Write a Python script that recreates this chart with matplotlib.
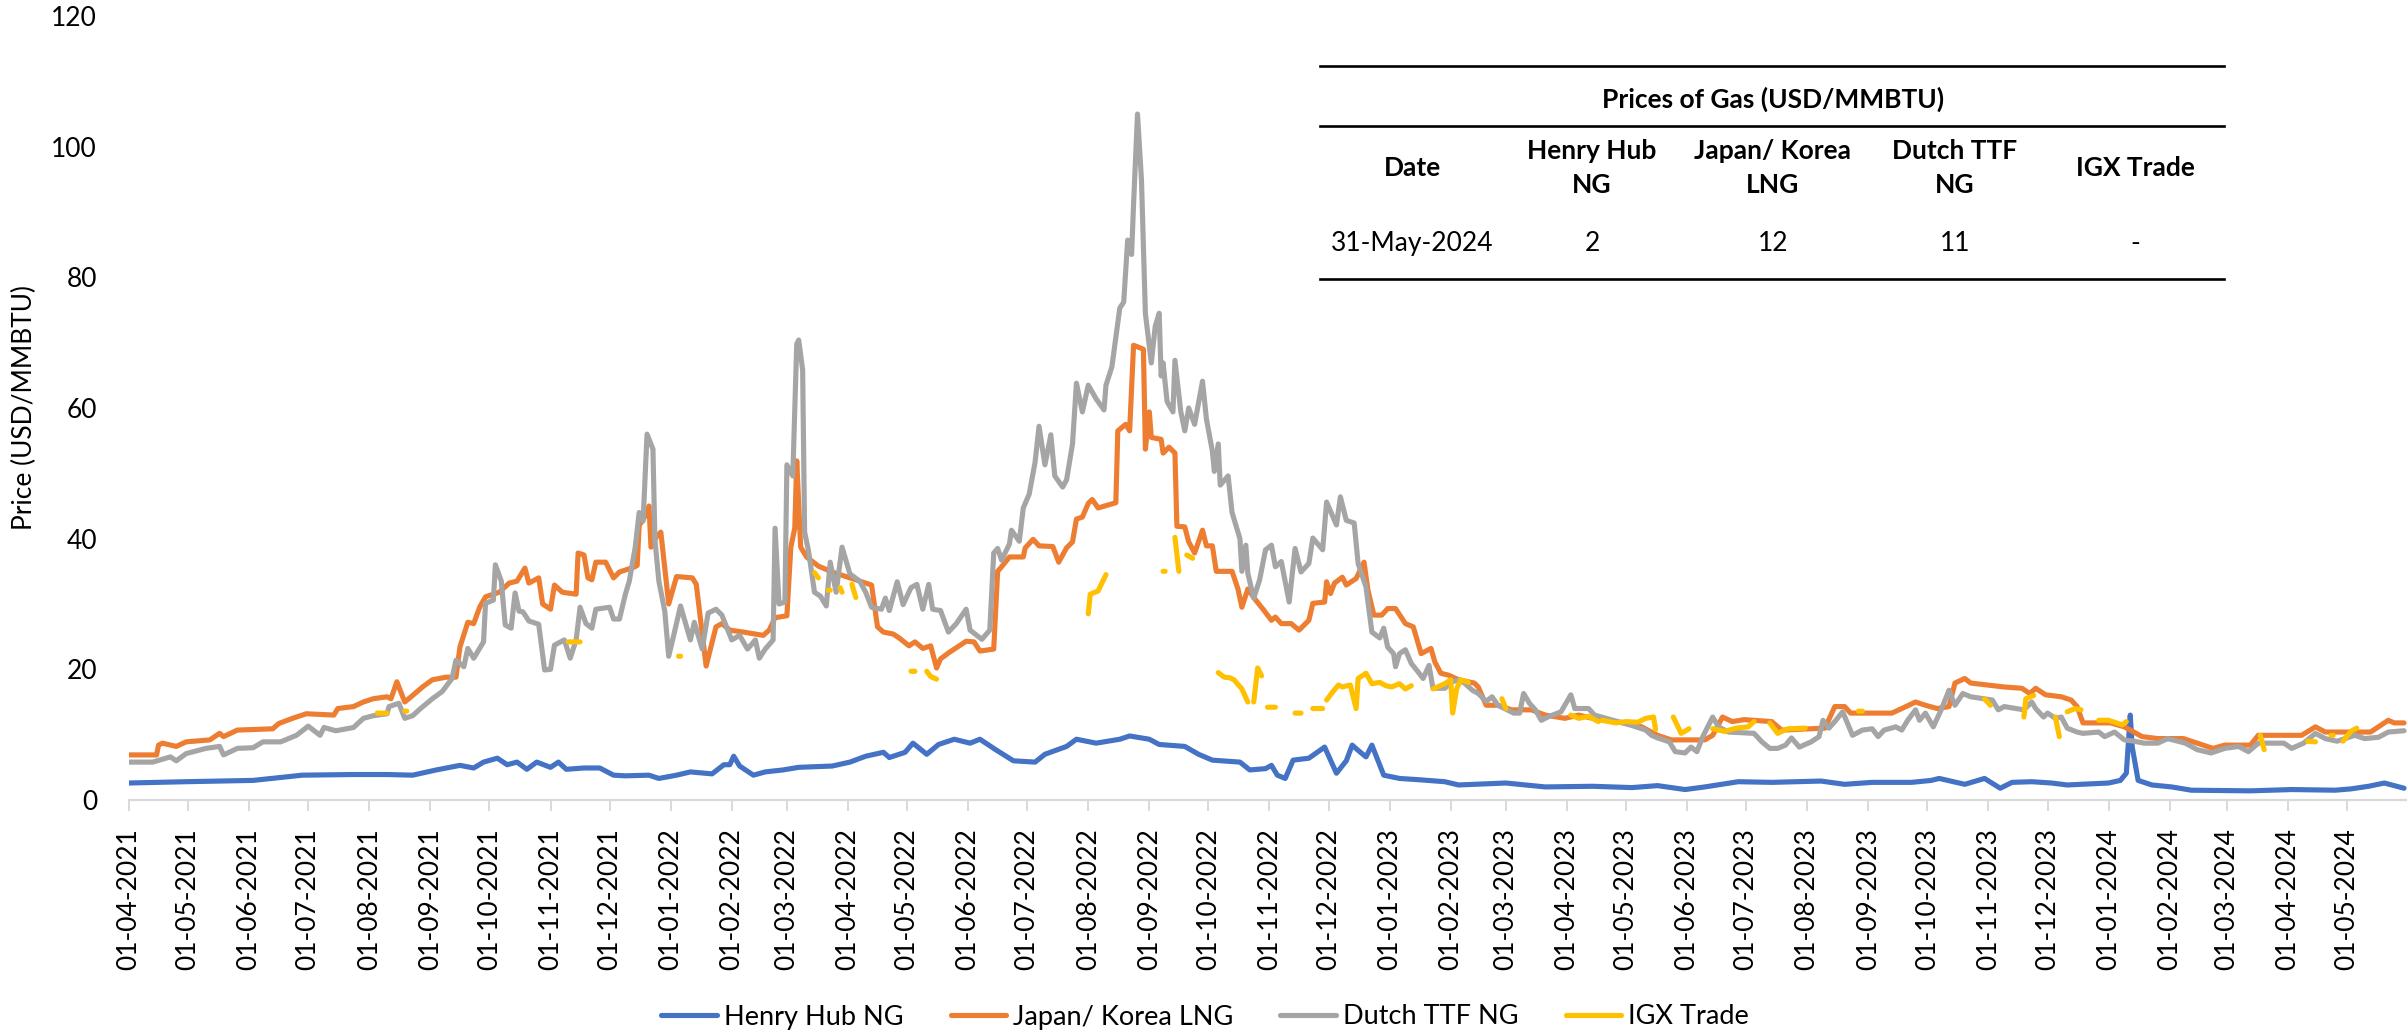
import numpy as np
import pandas as pd
import matplotlib
matplotlib.use("Agg")
import matplotlib.pyplot as plt
import matplotlib.dates as mdates
from matplotlib.lines import Line2D

plt.rcParams['font.family'] = ['Lato', 'DejaVu Sans']

# ---------------- data (days since 01-04-2021, USD/MMBTU) ----------------
start_date = "2021-04-01"
end_date = "2024-05-31"

hh_days = [0, 29, 63, 88, 114, 131, 144, 156, 168, 175, 180, 187, 192, 197, 202, 207, 214, 218, 222, 231,
           239, 246, 252, 264, 269, 278, 285, 296, 302, 305, 307, 310, 317, 323, 332, 340, 357, 366, 374, 383,
           386, 394, 398, 405, 411, 419, 427, 432, 440, 449, 460, 465, 476, 481, 491, 503, 508, 518, 523, 536,
           543, 550, 564, 569, 577, 580, 583, 587, 591, 599, 607, 613, 618, 621, 624, 628, 631, 637, 645, 655,
           668, 675, 699, 719, 743, 763, 776, 783, 790, 800, 817, 834, 859, 871, 885, 905, 915, 919, 932, 942,
           950, 956, 966, 976, 984, 1005, 1011, 1014, 1016, 1017, 1020, 1027, 1037, 1047, 1077, 1098, 1120, 1128,
           1137, 1145, 1155]
hh_vals = [2.6, 2.8, 3.0, 3.8, 3.9, 3.9, 3.8, 4.6, 5.3, 4.9, 5.8, 6.4, 5.4, 5.8, 4.7, 5.8, 5.0, 5.8, 4.7, 4.9,
           4.9, 3.8, 3.7, 3.8, 3.3, 3.8, 4.3, 4.0, 5.4, 5.4, 6.7, 5.2, 3.8, 4.3, 4.6, 5.0, 5.2, 5.8, 6.7, 7.3,
           6.5, 7.3, 8.7, 7.0, 8.5, 9.3, 8.7, 9.3, 7.7, 6.0, 5.8, 7.0, 8.2, 9.3, 8.7, 9.3, 9.8, 9.3, 8.5, 8.2,
           7.0, 6.1, 5.8, 4.6, 4.8, 5.3, 3.8, 3.3, 6.1, 6.4, 8.1, 4.1, 6.0, 8.4, 7.6, 6.6, 8.4, 3.8, 3.3, 3.1,
           2.8, 2.3, 2.6, 2.0, 2.1, 1.9, 2.2, 1.9, 1.6, 2.0, 2.8, 2.7, 2.9, 2.4, 2.7, 2.7, 3.0, 3.3, 2.4, 3.3,
           1.8, 2.7, 2.8, 2.6, 2.3, 2.6, 3.0, 4.1, 13.0, 8.1, 3.0, 2.3, 2.0, 1.5, 1.4, 1.6, 1.5, 1.7,
           2.1, 2.6, 1.8]

jkm_days = [0, 14, 15, 17, 24, 29, 41, 46, 48, 55, 73, 76, 83, 90, 104, 106, 114, 119, 124, 131,
            133, 136, 140, 144, 149, 154, 161, 166, 168, 172, 175, 178, 181, 188, 193, 197, 201, 203, 208, 210,
            214, 216, 220, 227, 228, 231, 233, 235, 237, 242, 246, 249, 256, 258, 259, 263, 264, 265, 268, 270,
            274, 278, 286, 288, 293, 298, 301, 305, 312, 322, 325, 328, 334, 336, 338, 339, 341, 344, 350, 357,
            364, 371, 377, 380, 383, 388, 391, 396, 399, 403, 407, 410, 412, 416, 425, 429, 432, 439, 441, 443,
            447, 454, 455, 459, 462, 469, 472, 476, 479, 481, 484, 487, 489, 492, 501, 502, 506, 508, 510, 515,
            516, 518, 519, 524, 525, 528, 531, 532, 536, 538, 541, 545, 547, 550, 552, 560, 563, 565, 568, 572,
            576, 580, 582, 585, 590, 594, 599, 601, 607, 608, 610, 612, 616, 618, 623, 627, 629, 632, 636, 639,
            643, 648, 652, 656, 661, 663, 666, 670, 675, 683, 685, 689, 695, 702, 712, 719, 729, 736, 743, 753,
            760, 768, 771, 776, 783, 800, 804, 809, 814, 820, 834, 839, 861, 866, 871, 874, 895, 900, 907, 912,
            918, 924, 927, 932, 935, 952, 961, 965, 968, 973, 981, 986, 989, 992, 1006, 1013, 1022, 1030, 1043, 1050,
            1058, 1064, 1077, 1081, 1103, 1110, 1115, 1138, 1142, 1147, 1150, 1155]
jkm_vals = [6.9, 6.9, 8.4, 8.7, 8.2, 8.9, 9.2, 10.2, 9.7, 10.7, 10.9, 11.7, 12.5, 13.2, 13.0, 14.0, 14.3, 15.0, 15.5, 15.8,
            15.5, 18.1, 15.0, 16.0, 17.3, 18.4, 18.8, 18.8, 23.4, 27.2, 27.0, 29.5, 31.1, 31.8, 33.2, 33.5, 35.5, 33.2, 34.0, 30.0,
            29.2, 32.9, 31.8, 31.5, 37.8, 37.5, 34.0, 33.7, 36.4, 36.4, 34.0, 34.9, 35.6, 35.9, 42.0, 43.9, 45.0, 38.7, 40.4, 41.0,
            30.0, 34.2, 34.0, 33.0, 20.5, 26.5, 27.0, 26.0, 25.7, 25.2, 26.0, 27.9, 28.2, 38.7, 41.6, 51.9, 38.7, 37.2, 35.8, 34.9,
            34.2, 33.5, 32.9, 26.5, 25.7, 25.4, 24.8, 23.6, 24.2, 23.2, 23.6, 20.2, 21.6, 22.5, 24.3, 24.2, 22.8, 23.1, 35.0, 35.7,
            37.2, 37.2, 38.6, 39.9, 38.9, 38.8, 36.4, 38.6, 39.5, 43.0, 43.3, 45.4, 46.0, 44.7, 45.5, 56.5, 57.5, 56.5, 69.6, 69.0,
            53.7, 59.4, 55.5, 55.2, 53.1, 54.0, 53.1, 41.9, 41.8, 39.5, 37.8, 41.3, 38.9, 38.9, 35.0, 35.0, 32.3, 29.5, 32.3, 30.6,
            29.1, 27.5, 28.0, 27.0, 27.0, 26.0, 27.5, 30.1, 30.3, 33.4, 31.6, 33.2, 34.1, 32.9, 33.9, 36.4, 32.1, 28.3, 28.3, 29.3,
            29.3, 27.0, 26.5, 22.4, 23.2, 21.1, 19.4, 19.1, 18.4, 17.9, 17.3, 14.5, 14.5, 13.8, 13.8, 13.0, 12.5, 13.0, 12.5, 12.0,
            11.8, 11.2, 10.7, 9.9, 9.2, 9.2, 9.9, 12.7, 12.0, 12.3, 12.0, 10.7, 11.0, 14.3, 14.3, 13.3, 13.3, 14.0, 15.0, 14.5,
            14.0, 14.3, 17.9, 18.6, 17.9, 17.3, 17.1, 16.3, 17.1, 16.1, 15.8, 15.3, 14.3, 11.8, 11.8, 11.2, 9.7, 9.4, 9.4, 8.7,
            7.9, 8.4, 8.4, 9.9, 9.9, 11.2, 10.4, 10.4, 11.2, 12.2, 11.8, 11.8]

ttf_days = [0, 12, 21, 24, 29, 39, 46, 48, 55, 63, 68, 77, 85, 91, 97, 99, 105, 114, 119, 124,
            131, 132, 137, 140, 144, 148, 154, 159, 164, 166, 170, 172, 175, 180, 181, 185, 186, 189, 191, 194,
            196, 198, 200, 203, 208, 211, 214, 216, 221, 224, 227, 229, 232, 235, 237, 244, 246, 249, 252, 254,
            257, 259, 261, 263, 266, 267, 269, 272, 274, 276, 280, 283, 285, 287, 291, 294, 298, 301, 306, 310,
            314, 318, 320, 323, 327, 328, 330, 333, 334, 337, 339, 340, 342, 343, 345, 348, 351, 354, 356, 359,
            362, 366, 371, 374, 377, 382, 384, 386, 390, 393, 397, 400, 403, 406, 408, 412, 416, 420, 425, 427,
            433, 437, 439, 441, 443, 447, 448, 452, 454, 457, 460, 462, 465, 468, 470, 474, 476, 479, 481, 484,
            487, 491, 495, 496, 499, 503, 505, 507, 509, 510, 512, 514, 516, 519, 521, 523, 524, 525, 527, 530,
            531, 534, 536, 538, 541, 545, 547, 550, 551, 553, 554, 558, 560, 564, 565, 567, 568, 571, 574, 577,
            580, 582, 585, 589, 592, 595, 599, 601, 606, 608, 613, 615, 618, 622, 624, 628, 631, 635, 637, 639,
            642, 643, 645, 648, 651, 655, 657, 660, 662, 668, 672, 675, 678, 682, 685, 689, 692, 695, 703, 706,
            708, 711, 714, 717, 721, 727, 732, 734, 741, 744, 756, 763, 770, 773, 776, 782, 785, 790, 793, 796,
            799, 804, 807, 812, 825, 829, 833, 837, 841, 844, 848, 854, 858, 860, 863, 866, 870, 875, 880, 885,
            888, 891, 897, 900, 903, 907, 909, 912, 916, 920, 924, 927, 931, 935, 946, 949, 952, 962, 966, 968,
            972, 974, 978, 981, 984, 989, 992, 1000, 1003, 1008, 1013, 1018, 1023, 1030, 1035, 1044, 1050, 1057, 1064, 1071,
            1076, 1081, 1094, 1098, 1104, 1110, 1115, 1121, 1130, 1135, 1142, 1147, 1155]
ttf_vals = [5.8, 5.8, 6.6, 6.0, 7.1, 7.9, 8.2, 6.9, 7.9, 8.0, 8.9, 8.9, 9.9, 11.3, 9.9, 11.1, 10.6, 11.1, 12.5, 12.9,
            13.2, 14.3, 14.8, 12.5, 12.9, 14.0, 15.5, 16.6, 18.6, 21.4, 20.4, 23.2, 21.7, 24.2, 30.1, 30.6, 36.0, 33.5, 26.8, 26.3,
            31.7, 28.9, 28.8, 27.4, 26.9, 19.9, 20.0, 23.7, 24.5, 21.7, 24.5, 29.5, 27.0, 26.3, 29.2, 29.5, 27.7, 27.7, 31.5, 33.5,
            38.7, 44.0, 42.7, 56.0, 53.7, 39.8, 33.5, 28.9, 22.0, 24.5, 29.7, 26.6, 24.5, 27.2, 23.1, 28.6, 29.2, 28.3, 24.5, 25.2,
            23.1, 24.5, 21.7, 23.1, 24.5, 41.6, 30.0, 30.3, 51.3, 49.6, 69.8, 70.4, 65.8, 41.0, 38.1, 31.8, 31.2, 29.7, 36.4, 31.8,
            38.7, 34.6, 33.5, 31.8, 29.5, 29.2, 30.9, 29.0, 33.4, 29.9, 32.5, 33.0, 29.2, 33.0, 29.2, 29.0, 25.7, 27.0, 29.2, 26.0,
            24.6, 26.0, 37.8, 38.5, 36.7, 39.2, 41.3, 39.6, 44.7, 46.8, 51.7, 57.2, 51.3, 55.9, 49.6, 47.9, 49.0, 54.5, 63.8, 59.4,
            63.5, 61.4, 59.7, 63.5, 66.3, 75.3, 76.2, 85.7, 83.5, 91.2, 105.0, 95.0, 74.5, 66.9, 72.5, 74.5, 64.9, 66.9, 61.0, 59.4,
            67.3, 59.4, 56.5, 60.0, 57.5, 64.1, 58.3, 53.4, 50.3, 54.5, 48.2, 49.6, 44.0, 40.0, 35.0, 39.0, 34.7, 30.9, 33.7, 38.3,
            39.0, 35.7, 36.5, 30.3, 38.5, 34.9, 36.2, 40.1, 38.3, 45.6, 42.1, 46.4, 42.8, 42.4, 36.2, 32.6, 25.7, 24.8, 26.3, 23.4,
            22.4, 20.4, 22.4, 23.0, 20.9, 19.4, 18.6, 20.6, 17.1, 17.1, 18.1, 18.4, 17.9, 16.8, 16.3, 15.1, 15.8, 14.5, 13.3, 13.3,
            16.3, 14.8, 13.8, 12.2, 12.8, 13.5, 16.1, 14.0, 14.0, 13.0, 12.0, 11.4, 10.7, 9.9, 9.5, 8.9, 7.4, 7.2, 8.1, 7.4,
            9.7, 12.7, 11.2, 10.4, 10.2, 8.9, 7.9, 7.9, 8.4, 9.5, 8.1, 8.9, 9.7, 12.2, 11.0, 12.0, 13.5, 9.9, 10.7, 10.9,
            9.7, 10.7, 11.2, 10.7, 12.2, 13.8, 12.2, 13.3, 11.2, 13.8, 16.8, 14.5, 16.3, 15.8, 15.3, 13.8, 14.3, 13.8, 15.0, 14.0,
            12.7, 13.3, 12.5, 12.7, 11.0, 10.4, 10.2, 10.4, 9.7, 10.4, 9.2, 9.0, 8.7, 8.7, 9.4, 8.7, 7.7, 7.2, 7.9, 8.2,
            7.4, 8.7, 8.7, 7.9, 8.7, 10.2, 9.4, 9.0, 9.9, 9.4, 9.6, 10.4, 10.6]

# IGX Trade: None marks a gap (no trade)
igx_days = [126, 131, None, 140, 141, None, 223, 229, None, 279, 280, None, 348, 350, None, 355, 356, None,
            361, 362, None, 367, 369, None, 397, 399, None, 405, 407, 410, None, 487, 488, 492, 496, None,
            525, 526, None, 531, 533, None, 537, 540, None, 553, 556, 559, 561, 565, 568, None,
            571, 573, 575, None, 578, 582, None, 592, 595, None, 601, 606, None,
            608, 611, 614, 616, 620, 623, 624, 628, 631, 635, 638, 641, 645, 648, 651, None,
            662, 668, 671, 672, 674, 676, 680, None, 697, 699, None, 732, 736, 741, 746, None,
            748, 755, 760, 766, 770, 774, 775, None, 784, 788, 792, None, 804, 810, 816, 822, 825, None,
            833, 837, 842, 851, None, 878, 880, None, 942, 945, None, 962, 963, 967, None, 978, 980, None,
            984, 988, 991, None, 1000, 1005, 1010, 1012, 1014, None, 1082, 1084, None, 1106, 1110, None,
            1118, 1119, None, 1124, 1128, 1131]
igx_vals = [13.3, 13.3, None, 13.6, 13.6, None, 24.2, 24.2, None, 22.0, 22.0, None, 34.8, 34.0, None, 32.1, 32.1, None,
            32.5, 31.8, None, 33.0, 31.0, None, 19.7, 19.7, None, 19.7, 18.9, 18.5, None, 28.5, 31.5, 32.0, 34.5, None,
            35.0, 35.0, None, 40.2, 35.0, None, 37.5, 37.0, None, 19.5, 18.8, 18.7, 18.4, 17.0, 15.0, None,
            15.0, 20.2, 19.0, None, 14.2, 14.2, None, 13.3, 13.3, None, 14.0, 14.0, None,
            15.3, 16.5, 17.6, 17.3, 17.6, 14.0, 18.6, 19.4, 17.8, 18.0, 17.5, 17.3, 17.8, 17.0, 17.5, None,
            17.0, 17.8, 18.4, 13.3, 17.0, 18.4, 18.0, None, 15.5, 14.0, None, 13.0, 12.5, 12.8, 12.0, None,
            12.2, 11.8, 12.0, 11.9, 12.5, 12.7, 10.8, None, 12.7, 10.2, 10.9, None, 10.9, 10.5, 11.0, 11.2, 12.0, None,
            11.8, 10.2, 10.9, 11.0, None, 13.6, 13.6, None, 15.5, 14.5, None, 12.7, 15.5, 16.0, None, 12.7, 9.7, None,
            13.5, 14.0, 13.8, None, 12.2, 12.2, 11.7, 11.5, 12.0, None, 9.9, 7.7, None, 9.0, 8.9, None,
            9.9, 9.9, None, 9.0, 10.5, 11.0]

series_names = ["Henry Hub NG", "Japan/ Korea LNG", "Dutch TTF NG", "IGX Trade"]
series_colors = ["#4472C4", "#ED7D31", "#A5A5A5", "#FFC000"]

table_title = "Prices of Gas (USD/MMBTU)"
table_headers = ["Date", "Henry Hub\nNG", "Japan/ Korea\nLNG", "Dutch TTF\nNG", "IGX Trade"]
table_row = ["31-May-2024", "2", "12", "11", "-"]

y_ticks = [0, 20, 40, 60, 80, 100, 120]

# ---------------- figure ----------------
W, H = 2407, 1033
fig = plt.figure(figsize=(W / 100, H / 100), dpi=100)
fig.patch.set_facecolor("white")

def fx(x):
    return x / W

def fy(y):
    return 1 - y / H

ax = fig.add_axes([fx(129), fy(800), fx(2407) - fx(129), fy(16) - fy(800)])

t0_num = mdates.date2num(pd.Timestamp(start_date))

def to_xnum(days):
    return np.array([np.nan if d is None else t0_num + d for d in days], dtype=float)

def to_vals(vals):
    return np.array([np.nan if v is None else v for v in vals], dtype=float)

lw = 3.7
all_days = [hh_days, jkm_days, ttf_days, igx_days]
all_vals = [hh_vals, jkm_vals, ttf_vals, igx_vals]
for name, col, d, v in zip(series_names, series_colors, all_days, all_vals):
    ax.plot(to_xnum(d), to_vals(v), color=col, lw=lw, label=name,
            solid_capstyle="round", solid_joinstyle="round")

ax.xaxis_date()
ax.set_xlim(t0_num, mdates.date2num(pd.Timestamp(end_date)) + 0.5)
ax.set_ylim(0, 120)
ax.set_yticks(y_ticks)

ax.xaxis.set_major_locator(mdates.MonthLocator(bymonthday=1))
ax.xaxis.set_major_formatter(mdates.DateFormatter("%d-%m-%Y"))

for s in ["top", "right", "left"]:
    ax.spines[s].set_visible(False)
ax.spines["bottom"].set_color("#D9D9D9")
ax.spines["bottom"].set_linewidth(1.6)

ax.tick_params(axis="x", which="major", length=8, width=1.4, color="#D9D9D9",
               labelsize=19, pad=12, labelrotation=90, labelcolor="black")
ax.tick_params(axis="y", length=0, labelsize=19, pad=23, labelcolor="black")

fig.text(fx(24), fy(408), "Price (USD/MMBTU)", rotation=90, ha="center", va="center",
         fontsize=19, color="black")

# legend
leg = ax.legend(loc="center", bbox_to_anchor=(fx(1205), fy(1017)), bbox_transform=fig.transFigure,
                ncol=4, frameon=False, fontsize=19.5, handlelength=2.05, handletextpad=0.25,
                columnspacing=1.75, borderaxespad=0)
for h in leg.get_lines():
    h.set_linewidth(lw)
    h.set_solid_capstyle("round")

# ---------------- summary table ----------------
tx0, tx1 = fx(1320), fx(2224)
for yline in [66, 126, 279]:
    fig.add_artist(Line2D([tx0, tx1], [fy(yline), fy(yline)], transform=fig.transFigure,
                          color="black", lw=1.9))

fig.text(fx(1773), fy(99), table_title, ha="center", va="center", fontsize=19, fontweight="bold")
col_x = [1412, 1592, 1773, 1955, 2135]
for cx, hd in zip(col_x, table_headers):
    fig.text(fx(cx), fy(168), hd, ha="center", va="center", fontsize=19, fontweight="bold",
             linespacing=1.5)
for cx, val in zip(col_x, table_row):
    fig.text(fx(cx), fy(244), val, ha="center", va="center", fontsize=19)

fig.savefig("out.png", dpi=100, facecolor="white")
